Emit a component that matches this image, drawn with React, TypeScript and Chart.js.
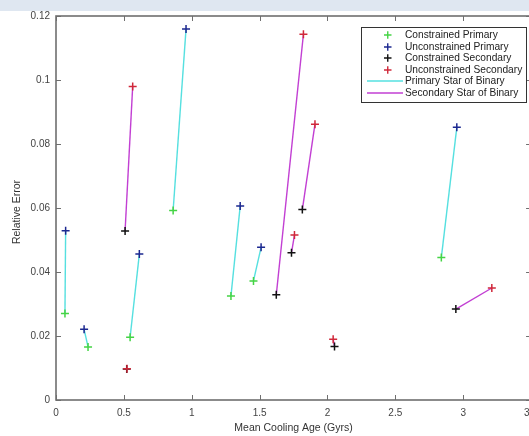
import React, { useEffect, useRef } from "react";
import { Chart, registerables } from "chart.js";

Chart.register(...registerables);

// Primary star pairs: constrained (green) <-> unconstrained (blue)
const primaryConstrainedX = [0.066, 0.236, 0.546, 0.863, 1.289, 1.455, 2.839];
const primaryConstrainedY = [0.027, 0.0166, 0.0196, 0.0592, 0.0325, 0.0372, 0.0445];
const primaryUnconstrainedX = [0.071, 0.207, 0.614, 0.958, 1.357, 1.511, 2.953];
const primaryUnconstrainedY = [0.0529, 0.0221, 0.0456, 0.1159, 0.0606, 0.0477, 0.0852];

// Secondary star pairs: constrained (black) <-> unconstrained (red)
const secondaryConstrainedX = [0.521, 0.509, 1.623, 1.735, 1.815, 2.052, 2.946];
const secondaryConstrainedY = [0.0097, 0.0528, 0.0329, 0.046, 0.0595, 0.0167, 0.0284];
const secondaryUnconstrainedX = [0.523, 0.565, 1.823, 1.757, 1.908, 2.042, 3.211];
const secondaryUnconstrainedY = [0.0098, 0.098, 0.1143, 0.0516, 0.0862, 0.019, 0.035];

const xTickValues = [0, 0.5, 1, 1.5, 2, 2.5, 3, 3.5];
const yTickValues = [0, 0.02, 0.04, 0.06, 0.08, 0.1, 0.12];

const legendLabels = [
  "Constrained Primary",
  "Unconstrained Primary",
  "Constrained Secondary",
  "Unconstrained Secondary",
  "Primary Star of Binary",
  "Secondary Star of Binary",
];

const GREEN = "#45d445";
const BLUE = "#1c2890";
const BLACK = "#111111";
const RED = "#d0283a";
const CYAN = "#55e0e0";
const MAGENTA = "#c23fd3";
const FONT = "'Liberation Sans', Arial, Helvetica, sans-serif";

const pts = (xs: number[], ys: number[]) => xs.map((x, i) => ({ x, y: ys[i] }));

const bgPlugin = {
  id: "bg",
  beforeDraw(chart: any) {
    const { ctx, width, height } = chart;
    ctx.save();
    ctx.fillStyle = "#ffffff";
    ctx.fillRect(0, 0, width, height);
    ctx.fillStyle = "#dfe7f1";
    ctx.fillRect(0, 0, width, 11);
    ctx.restore();
  },
};

const framePlugin = {
  id: "frame",
  afterDatasetsDraw(chart: any) {
    const { ctx, chartArea, scales } = chart;
    const { left, right, top, bottom } = chartArea;
    ctx.save();
    ctx.strokeStyle = "#6f6f6f";
    ctx.lineWidth = 1;
    const tl = 5;
    ctx.beginPath();
    xTickValues.forEach((v) => {
      const px = Math.round(scales.x.getPixelForValue(v)) + 0.5;
      ctx.moveTo(px, bottom);
      ctx.lineTo(px, bottom - tl);
      ctx.moveTo(px, top);
      ctx.lineTo(px, top + tl);
    });
    yTickValues.forEach((v) => {
      const py = Math.round(scales.y.getPixelForValue(v)) + 0.5;
      ctx.moveTo(left, py);
      ctx.lineTo(left + tl, py);
      ctx.moveTo(right, py);
      ctx.lineTo(right - tl, py);
    });
    ctx.stroke();
    ctx.lineWidth = 1.6;
    ctx.strokeRect(left, top, right - left, bottom - top);

    // axis titles
    ctx.fillStyle = "#333333";
    ctx.font = `10.5px ${FONT}`;
    ctx.textAlign = "center";
    ctx.textBaseline = "middle";
    ctx.fillText("Mean Cooling Age (Gyrs)", (left + right) / 2, 428);
    ctx.save();
    ctx.translate(17, (top + bottom) / 2 + 4);
    ctx.rotate(-Math.PI / 2);
    ctx.fillText("Relative Error", 0, 0);
    ctx.restore();
    ctx.restore();
  },
};

const legendPlugin = {
  id: "customLegend",
  afterDraw(chart: any) {
    const { ctx } = chart;
    const bx = 361.5, by = 27.5, bw = 165, bh = 75;
    ctx.save();
    ctx.fillStyle = "#ffffff";
    ctx.fillRect(bx, by, bw, bh);
    ctx.strokeStyle = "#333333";
    ctx.lineWidth = 1;
    ctx.strokeRect(bx, by, bw, bh);
    const rowY = [35, 47, 58, 70, 81, 93];
    const markerColors = [GREEN, BLUE, BLACK, RED];
    const lineColors = [CYAN, MAGENTA];
    ctx.font = `10.2px ${FONT}`;
    ctx.textAlign = "left";
    ctx.textBaseline = "middle";
    legendLabels.forEach((label, i) => {
      const y = rowY[i];
      if (i < 4) {
        ctx.strokeStyle = markerColors[i];
        ctx.lineWidth = 1.4;
        ctx.beginPath();
        ctx.moveTo(384, y);
        ctx.lineTo(391.5, y);
        ctx.moveTo(387.75, y - 3.75);
        ctx.lineTo(387.75, y + 3.75);
        ctx.stroke();
      } else {
        ctx.strokeStyle = lineColors[i - 4];
        ctx.lineWidth = 1.5;
        ctx.beginPath();
        ctx.moveTo(367, y);
        ctx.lineTo(403, y);
        ctx.stroke();
      }
      ctx.fillStyle = "#222222";
      ctx.fillText(label, 405, y + 0.5);
    });
    ctx.restore();
  },
};

export default function App() {
  const ref = useRef<HTMLCanvasElement | null>(null);

  useEffect(() => {
    if (!ref.current) return;
    const lineSets: any[] = [];
    primaryConstrainedX.forEach((_, i) => {
      lineSets.push({
        label: "Primary Star of Binary",
        data: [
          { x: primaryConstrainedX[i], y: primaryConstrainedY[i] },
          { x: primaryUnconstrainedX[i], y: primaryUnconstrainedY[i] },
        ],
        showLine: true,
        borderColor: CYAN,
        borderWidth: 1.4,
        pointRadius: 0,
        order: 10,
      });
    });
    secondaryConstrainedX.forEach((_, i) => {
      lineSets.push({
        label: "Secondary Star of Binary",
        data: [
          { x: secondaryConstrainedX[i], y: secondaryConstrainedY[i] },
          { x: secondaryUnconstrainedX[i], y: secondaryUnconstrainedY[i] },
        ],
        showLine: true,
        borderColor: MAGENTA,
        borderWidth: 1.4,
        pointRadius: 0,
        order: 10,
      });
    });
    const markerSet = (label: string, xs: number[], ys: number[], color: string, order: number) => ({
      label,
      data: pts(xs, ys),
      showLine: false,
      pointStyle: "cross",
      pointRadius: 4,
      pointBorderWidth: 1.5,
      borderColor: color,
      backgroundColor: color,
      order,
    });
    const chart = new Chart(ref.current, {
      type: "scatter",
      data: {
        datasets: [
          ...lineSets,
          markerSet("Constrained Primary", primaryConstrainedX, primaryConstrainedY, GREEN, 4),
          markerSet("Unconstrained Primary", primaryUnconstrainedX, primaryUnconstrainedY, BLUE, 3),
          markerSet("Constrained Secondary", secondaryConstrainedX, secondaryConstrainedY, BLACK, 2),
          markerSet("Unconstrained Secondary", secondaryUnconstrainedX, secondaryUnconstrainedY, RED, 1),
        ],
      },
      options: {
        animation: false,
        responsive: false,
        layout: { padding: { left: 0, top: 16, right: 10, bottom: 0 } },
        plugins: {
          legend: { display: false },
          tooltip: { enabled: false },
        },
        scales: {
          x: {
            type: "linear",
            min: 0,
            max: 3.5,
            afterBuildTicks: (scale: any) => {
              scale.ticks = xTickValues.map((v) => ({ value: v }));
            },
            ticks: {
              padding: 7,
              color: "#444444",
              font: { size: 10, family: FONT },
              maxRotation: 0,
              callback: (v: any) => String(Number(v)),
            },
            grid: { display: false, drawTicks: false },
            border: { display: false },
            afterFit: (scale: any) => {
              scale.height = 36;
            },
          },
          y: {
            type: "linear",
            min: 0,
            max: 0.12,
            afterBuildTicks: (scale: any) => {
              scale.ticks = yTickValues.map((v) => ({ value: v }));
            },
            ticks: {
              padding: 6,
              color: "#444444",
              font: { size: 10, family: FONT },
              callback: (v: any) => String(Number(Number(v).toFixed(2))),
            },
            grid: { display: false, drawTicks: false },
            border: { display: false },
            afterFit: (scale: any) => {
              scale.width = 56;
            },
          },
        },
      },
      plugins: [bgPlugin, framePlugin, legendPlugin],
    });
    return () => chart.destroy();
  }, []);

  return (
    <div
      style={{
        position: "fixed",
        left: 0,
        top: 0,
        width: 529,
        height: 436,
        overflow: "hidden",
        background: "#ffffff",
      }}
    >
      <canvas ref={ref} width={545} height={436} style={{ display: "block" }} />
    </div>
  );
}
